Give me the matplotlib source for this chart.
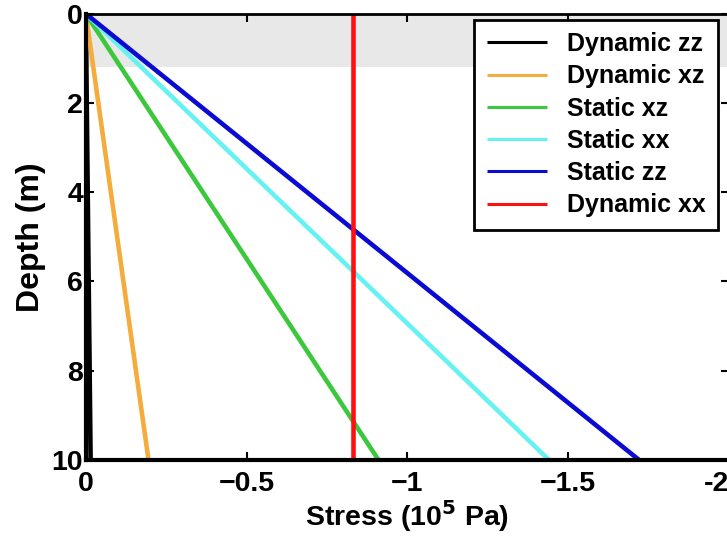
import matplotlib
matplotlib.use("Agg")
import matplotlib.pyplot as plt

plt.rcParams['font.family'] = ['Liberation Sans', 'DejaVu Sans']
plt.rcParams['font.weight'] = 'bold'

# Depth profile end points (m) and stress at each depth (10^5 Pa)
depth = [0, 10]
dynamic_zz = [0, -0.015]
dynamic_xz = [0, -0.195]
static_xz = [0, -0.91]
static_xx = [0, -1.44]
static_zz = [0, -1.72]
dynamic_xx = [-0.83, -0.83]

# Near-surface layer depth (m)
layer_top, layer_bottom = 0, 1.2

x_ticks = [0, -0.5, -1, -1.5, -2]
x_tick_labels = ["0", "\u22120.5", "\u22121", "\u22121.5", "-2"]
y_ticks = [0, 2, 4, 6, 8, 10]

series = [
    ("Dynamic zz", dynamic_zz, "#000000"),
    ("Dynamic xz", dynamic_xz, "#F4AC3C"),
    ("Static xz", static_xz, "#3CC83C"),
    ("Static xx", static_xx, "#66F2F2"),
    ("Static zz", static_zz, "#0A0AD2"),
    ("Dynamic xx", dynamic_xx, "#FF1010"),
]

fig = plt.figure(figsize=(7.27, 5.37), dpi=100)
ax = fig.add_axes([0.118, 0.1434, 0.885, 0.831])

ax.axhspan(layer_top, layer_bottom, color="#e8e8e8", zorder=0, lw=0)

for name, vals, col in series:
    ax.plot(vals, depth, color=col, lw=3.3, label=name, solid_capstyle='butt')

ax.set_xlim(0, -2)
ax.set_ylim(10, 0)
ax.set_xticks(x_ticks)
ax.set_yticks(y_ticks)
ax.set_xticklabels(x_tick_labels)
ax.tick_params(direction='in', length=6, width=1.5, labelsize=20.5,
               top=True, right=True)
ax.tick_params(axis='x', pad=8)
ax.tick_params(axis='y', pad=2)
for lab in ax.get_xticklabels() + ax.get_yticklabels():
    lab.set_fontweight('bold')
# last x label sits just left of its tick so it stays on the canvas
ax.get_xticklabels()[-1].set_horizontalalignment('right')

for side in ['left', 'bottom']:
    ax.spines[side].set_linewidth(3)
for side in ['top', 'right']:
    ax.spines[side].set_linewidth(2)

ax.set_xlabel("Stress (10$^{\\mathbf{5}}$ Pa)", fontsize=20.5, fontweight='bold', labelpad=1)
ax.set_ylabel("Depth (m)", fontsize=23, fontweight='bold', labelpad=4)

leg = ax.legend(loc='upper right', bbox_to_anchor=(0.983, 0.987), fontsize=18,
                frameon=True, fancybox=False, framealpha=1, edgecolor='black',
                handlelength=2.4, handletextpad=0.8, labelspacing=0.33,
                borderpad=0.5, borderaxespad=0)
leg.get_frame().set_linewidth(2)
for line in leg.get_lines():
    line.set_linewidth(2.2)
for t in leg.get_texts():
    t.set_fontweight('bold')

fig.savefig("out.png", dpi=100)
